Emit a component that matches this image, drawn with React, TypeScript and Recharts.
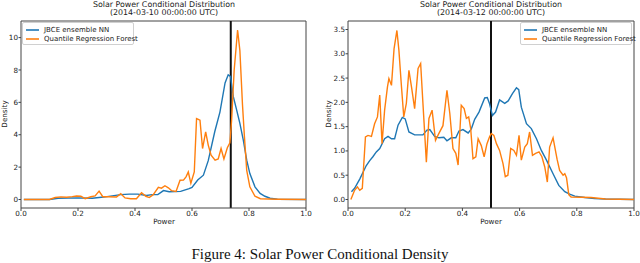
import { LineChart, Line, XAxis, YAxis, ReferenceLine, Legend } from "recharts";

// 2014-03-10 panel
const leftNnX = [0.01, 0.1, 0.13, 0.2, 0.25, 0.29, 0.35, 0.38, 0.41, 0.44, 0.46, 0.48, 0.5, 0.52, 0.56, 0.59, 0.6, 0.62, 0.64, 0.657, 0.68, 0.698, 0.716, 0.727, 0.735, 0.745, 0.757, 0.768, 0.78, 0.792, 0.803, 0.821, 0.839, 0.856, 0.874, 0.9, 1.0];
const leftNnY = [0, 0, 0.08, 0.1, 0.08, 0.15, 0.3, 0.33, 0.33, 0.25, 0.3, 0.31, 0.55, 0.48, 0.5, 0.67, 0.75, 1.2, 1.5, 2.4, 4.2, 5.4, 7.2, 7.7, 7.6, 6.35, 5.5, 4.7, 3.67, 2.43, 1.6, 0.78, 0.38, 0.2, 0.08, 0.02, 0];
const leftQrfX = [0.01, 0.1, 0.12, 0.14, 0.16, 0.18, 0.195, 0.21, 0.225, 0.245, 0.26, 0.274, 0.287, 0.305, 0.335, 0.35, 0.365, 0.385, 0.405, 0.423, 0.438, 0.45, 0.464, 0.482, 0.493, 0.505, 0.517, 0.528, 0.544, 0.558, 0.57, 0.579, 0.587, 0.596, 0.608, 0.616, 0.628, 0.637, 0.648, 0.657, 0.667, 0.681, 0.692, 0.702, 0.712, 0.724, 0.733, 0.739, 0.748, 0.76, 0.768, 0.777, 0.784, 0.792, 0.803, 0.821, 0.84, 0.9, 1.0];
const leftQrfY = [0, 0, 0.12, 0.16, 0.14, 0.18, 0.22, 0.2, 0.05, 0.17, 0.22, 0.52, 0.17, 0.17, 0.15, 0.36, 0.1, 0.05, 0.05, 0.42, 0.2, 0.12, 0.3, 0.75, 0.7, 0.85, 0.72, 0.55, 0.5, 1.19, 1.2, 1.4, 1.7, 1.0, 1.7, 5.0, 4.9, 3.15, 4.18, 3.36, 2.74, 2.43, 2.5, 3.15, 2.5, 3.2, 3.5, 4.9, 8.0, 10.47, 9.2, 5.9, 3.87, 1.8, 0.78, 0.2, 0.05, 0.02, 0];
const leftObserved = 0.736;

// 2014-03-12 panel
const rightNnX = [0.012, 0.023, 0.041, 0.064, 0.076, 0.087, 0.099, 0.111, 0.128, 0.14, 0.152, 0.163, 0.175, 0.19, 0.2, 0.213, 0.233, 0.262, 0.276, 0.286, 0.303, 0.318, 0.335, 0.346, 0.361, 0.377, 0.388, 0.402, 0.42, 0.431, 0.443, 0.458, 0.478, 0.487, 0.495, 0.505, 0.516, 0.53, 0.548, 0.56, 0.575, 0.589, 0.597, 0.606, 0.624, 0.641, 0.659, 0.676, 0.694, 0.717, 0.737, 0.758, 0.775, 0.793, 0.828, 0.862, 0.9, 1.0];
const rightNnY = [0.16, 0.23, 0.42, 0.7, 0.8, 0.88, 0.98, 1.05, 1.25, 1.3, 1.25, 1.25, 1.53, 1.69, 1.66, 1.39, 1.33, 1.33, 1.43, 1.44, 1.3, 1.27, 1.28, 1.21, 1.27, 1.27, 1.41, 1.44, 1.37, 1.45, 1.65, 1.8, 2.09, 2.1, 1.97, 1.73, 1.8, 2.05, 1.98, 2.03, 2.18, 2.3, 2.26, 1.9, 1.56, 1.46, 1.25, 1.01, 0.81, 0.53, 0.29, 0.16, 0.11, 0.07, 0.04, 0.02, 0.01, 0];
const rightQrfX = [0.01, 0.023, 0.033, 0.041, 0.05, 0.061, 0.07, 0.082, 0.093, 0.103, 0.111, 0.119, 0.128, 0.138, 0.143, 0.152, 0.161, 0.171, 0.178, 0.187, 0.195, 0.204, 0.213, 0.222, 0.233, 0.245, 0.254, 0.262, 0.274, 0.283, 0.294, 0.306, 0.317, 0.332, 0.346, 0.356, 0.367, 0.377, 0.385, 0.396, 0.406, 0.414, 0.422, 0.429, 0.437, 0.447, 0.455, 0.466, 0.476, 0.486, 0.495, 0.501, 0.51, 0.519, 0.53, 0.542, 0.55, 0.559, 0.569, 0.58, 0.589, 0.598, 0.606, 0.618, 0.627, 0.635, 0.645, 0.656, 0.668, 0.678, 0.688, 0.697, 0.705, 0.717, 0.731, 0.74, 0.752, 0.758, 0.764, 0.772, 0.78, 0.85, 0.9, 1.0];
const rightQrfY = [0, 0.19, 0.26, 0.19, 0.23, 1.29, 1.32, 1.3, 1.56, 1.7, 2.15, 1.15, 1.84, 2.32, 2.49, 2.35, 3.1, 3.48, 3.07, 2.32, 1.7, 1.98, 2.66, 2.32, 1.87, 2.7, 2.8, 1.98, 0.77, 1.67, 1.84, 1.22, 1.35, 1.52, 2.25, 1.77, 1.05, 0.95, 0.71, 1.94, 1.87, 1.67, 1.7, 1.46, 0.84, 0.88, 1.25, 1.11, 0.88, 1.15, 1.29, 1.36, 1.32, 1.15, 1.01, 0.74, 0.47, 0.5, 1.05, 1.01, 0.91, 1.32, 0.81, 1.08, 1.15, 1.39, 0.91, 0.95, 0.98, 0.88, 0.67, 0.36, 1.08, 1.27, 0.83, 0.6, 0.5, 0.53, 0.45, 0.1, 0.05, 0.04, 0.01, 0];
const rightObserved = 0.5;

const xTicks = [0, 0.2, 0.4, 0.6, 0.8, 1.0];
const leftYTicks = [0, 2, 4, 6, 8, 10];
const rightYTicks = [0, 0.5, 1.0, 1.5, 2.0, 2.5, 3.0, 3.5];
const seriesNames = ["JBCE ensemble NN", "Quantile Regression Forest"];

const BLUE = "#1f77b4";
const ORANGE = "#ff7f0e";
const AXIS = "#444";
const FONT = "DejaVu Sans";

const toPoints = (xs: number[], ys: number[]) => xs.map((x, i) => ({ power: x, density: ys[i] }));

function LegendBox() {
    return (
        <div style={{
            width: 112, height: 23, border: "1px solid #d0d0d0", borderRadius: 2,
            background: "rgba(255,255,255,0.8)", fontFamily: FONT, fontSize: 7, color: "#222",
            boxSizing: "border-box", padding: "2px 0 0 3px"
        }}>
            {seriesNames.map((n, i) => (
                <div key={n} style={{ display: "flex", alignItems: "center", height: 9.5 }}>
                    <svg width={13} height={4} style={{ flexShrink: 0, marginRight: 5 }}>
                        <line x1={0} y1={2} x2={13} y2={2} stroke={i === 0 ? BLUE : ORANGE} strokeWidth={1.6} />
                    </svg>
                    <span style={{ whiteSpace: "nowrap" }}>{n}</span>
                </div>
            ))}
        </div>
    );
}

type PanelProps = {
    nn: { power: number; density: number }[];
    qrf: { power: number; density: number }[];
    observed: number;
    yDomain: [number, number];
    yTicks: number[];
    yFmt: (v: number) => string;
    yWidth: number;
    right: number;
    legendLeft: number;
};

function Panel({ nn, qrf, observed, yDomain, yTicks, yFmt, yWidth, right, legendLeft }: PanelProps) {
    const tick = { fill: "#222", fontSize: 7.2, fontFamily: FONT };
    return (
        <LineChart width={320} height={225} margin={{ top: 21, right, left: 0, bottom: 0 }}>
            <XAxis dataKey="power" type="number" domain={[0, 1]} ticks={xTicks} tickFormatter={(v) => v.toFixed(1)}
                   tick={tick} tickSize={3} tickMargin={0} height={17} stroke={AXIS} allowDataOverflow />
            <YAxis type="number" domain={yDomain} ticks={yTicks} tickFormatter={yFmt} tick={tick} tickSize={2.5} tickMargin={0.5}
                   width={yWidth} stroke={AXIS} allowDataOverflow />
            {/* top and right spines */}
            <ReferenceLine y={yDomain[1]} stroke={AXIS} strokeWidth={1} />
            <ReferenceLine x={1} stroke={AXIS} strokeWidth={1} />
            <ReferenceLine x={observed} stroke="#111" strokeWidth={2} />
            <Line data={nn} dataKey="density" stroke={BLUE} strokeWidth={1.4} dot={false} isAnimationActive={false} name={seriesNames[0]} />
            <Line data={qrf} dataKey="density" stroke={ORANGE} strokeWidth={1.4} dot={false} isAnimationActive={false} name={seriesNames[1]} />
            <Legend layout="horizontal" verticalAlign="middle" align="center" content={() => <LegendBox />}
                    wrapperStyle={{ left: legendLeft, top: 22, width: 112, height: 23 }} />
        </LineChart>
    );
}

export default function App() {
    const textStyle = { fontFamily: FONT, fill: "#222" };
    return (
        <div style={{ position: "absolute", left: 0, top: 0, width: 640, height: 263, background: "#fff" }}>
            <div style={{ position: "absolute", left: 0, top: 0 }}>
                <Panel nn={toPoints(leftNnX, leftNnY)} qrf={toPoints(leftQrfX, leftQrfY)} observed={leftObserved}
                       yDomain={[-0.525, 11.025]} yTicks={leftYTicks} yFmt={(v) => String(v)} yWidth={21} right={14} legendLeft={22} />
            </div>
            <div style={{ position: "absolute", left: 320, top: 0 }}>
                <Panel nn={toPoints(rightNnX, rightNnY)} qrf={toPoints(rightQrfX, rightQrfY)} observed={rightObserved}
                       yDomain={[-0.175, 3.675]} yTicks={rightYTicks} yFmt={(v) => v.toFixed(1)} yWidth={28} right={6} legendLeft={200} />
            </div>
            <svg width={640} height={263} style={{ position: "absolute", left: 0, top: 0, pointerEvents: "none" }}>
                <g style={textStyle} fontSize={7.9} textAnchor="middle">
                    <text x={164} y={6.6}>Solar Power Conditional Distribution</text>
                    <text x={164} y={15.4}>(2014-03-10 00:00:00 UTC)</text>
                    <text x={491} y={6.6}>Solar Power Conditional Distribution</text>
                    <text x={491} y={15.4}>(2014-03-12 00:00:00 UTC)</text>
                </g>
                <g style={textStyle} fontSize={7.2} textAnchor="middle">
                    <text x={164} y={224}>Power</text>
                    <text x={491} y={224}>Power</text>
                    <text transform="translate(7,114) rotate(-90)">Density</text>
                    <text transform="translate(331,114) rotate(-90)">Density</text>
                </g>
                <text x={320} y={258.5} textAnchor="middle" fontFamily="Liberation Serif" fontSize={15} fill="#111">
                    Figure 4: Solar Power Conditional Density
                </text>
            </svg>
        </div>
    );
}
